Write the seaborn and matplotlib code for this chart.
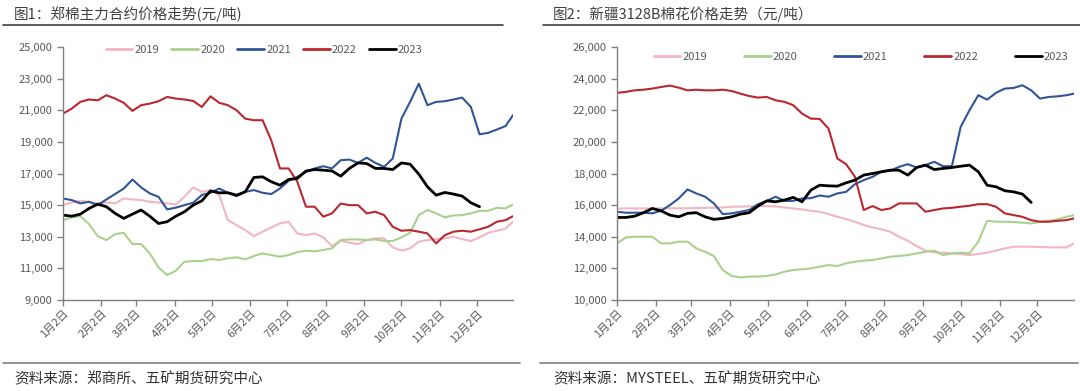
import matplotlib
matplotlib.use('Agg')
import matplotlib.pyplot as plt
from matplotlib.lines import Line2D
from matplotlib.ticker import FuncFormatter
import pandas as pd
import seaborn as sns

# weekly sample dates (month/day only matters), Jan 2 .. Dec 31
dates = list(pd.date_range('2023-01-02', periods=52, freq='7D')) + [pd.Timestamp('2023-12-31')]
years = ['2019', '2020', '2021', '2022', '2023']

# 图1 郑棉主力合约 (元/吨)
zce_2019 = [15000, 15170, 15270, 15210, 15110, 15170, 15110, 15420, 15360, 15320, 15210, 15170, 15110,
            15040, 15530, 16120, 15840, 15950, 15630, 14050, 13740, 13420, 13040, 13320, 13590, 13840,
            13950, 13210, 13100, 13210, 12960, 12410, 12750, 12620, 12540, 12790, 12900, 12900, 12330,
            12120, 12270, 12690, 12790, 12850, 12900, 13000, 12850, 12730, 12960, 13250, 13380, 13510, 13950]
zce_2020 = [14050, 14220, 14300, 13800, 13040, 12790, 13170, 13250, 12540, 12540, 11950, 11060, 10580,
            10850, 11420, 11460, 11460, 11590, 11530, 11640, 11700, 11570, 11780, 11950, 11840, 11740,
            11840, 12030, 12120, 12080, 12160, 12270, 12790, 12830, 12830, 12790, 12830, 12730, 12730,
            12960, 13250, 14370, 14690, 14480, 14220, 14350, 14370, 14480, 14640, 14640, 14830, 14790, 15040]
zce_2021 = [15420, 15320, 15110, 15210, 15000, 15360, 15700, 16050, 16620, 16120, 15740, 15530, 14730,
            14840, 15000, 15150, 15640, 15780, 16050, 15780, 15570, 15840, 15950, 15780, 15700, 16050,
            16540, 16790, 17100, 17320, 17460, 17320, 17840, 17880, 17670, 18000, 17670, 17420, 17950,
            20470, 21530, 22680, 21320, 21530, 21570, 21680, 21800, 21210, 19480, 19570, 19780, 20000, 20690]
zce_2022 = [20790, 21100, 21530, 21680, 21630, 21950, 21740, 21470, 20960, 21320, 21420, 21570, 21840,
            21740, 21680, 21590, 21210, 21880, 21470, 21320, 21000, 20470, 20370, 20370, 19100, 17320,
            17320, 16480, 14900, 14900, 14270, 14480, 15100, 15000, 15000, 14480, 14580, 14370, 13630,
            13380, 13420, 13320, 13210, 12580, 13100, 13320, 13380, 13320, 13470, 13630, 13950, 14050, 14300]
zce_2023 = [14370, 14300, 14430, 14790, 15060, 14900, 14480, 14160, 14430, 14690, 14300, 13840, 13950,
            14300, 14580, 15000, 15270, 15900, 15780, 15780, 15630, 15840, 16750, 16790, 16480, 16260,
            16620, 16690, 17160, 17250, 17210, 17160, 16830, 17320, 17670, 17630, 17320, 17320, 17250,
            17670, 17590, 16960, 16160, 15630, 15800, 15700, 15570, 15150, 14900]

# 图2 新疆3128B棉花 (元/吨)
spot_2019 = [15790, 15790, 15790, 15790, 15790, 15790, 15800, 15800, 15800, 15820, 15830, 15830, 15850,
             15900, 15900, 15920, 15940, 15940, 15920, 15850, 15790, 15730, 15640, 15580, 15430, 15260,
             15120, 14950, 14740, 14590, 14470, 14320, 14000, 13750, 13410, 13120, 13010, 12990, 12950,
             12910, 12840, 12910, 12990, 13120, 13260, 13370, 13370, 13370, 13350, 13330, 13330, 13330, 13580]
spot_2020 = [13580, 13960, 14000, 14000, 14000, 13580, 13580, 13690, 13690, 13260, 13050, 12780, 11900,
             11520, 11430, 11480, 11480, 11520, 11620, 11790, 11900, 11940, 12000, 12110, 12210, 12150,
             12320, 12420, 12490, 12530, 12630, 12740, 12780, 12840, 12950, 13050, 13120, 12840, 12950,
             12990, 12950, 13690, 15010, 14950, 14950, 14930, 14890, 14840, 14950, 15010, 15100, 15260, 15370]
spot_2021 = [15580, 15520, 15520, 15520, 15480, 15640, 16000, 16420, 16990, 16740, 16530, 16110, 15430,
             15480, 15580, 15690, 16060, 16270, 16530, 16270, 16270, 16420, 16440, 16610, 16530, 16740,
             16840, 17330, 17580, 17790, 18110, 18170, 18420, 18590, 18380, 18530, 18740, 18460, 18460,
             20950, 22000, 22950, 22670, 23100, 23370, 23410, 23580, 23260, 22740, 22840, 22880, 22950, 23050]
spot_2022 = [23100, 23160, 23260, 23300, 23370, 23470, 23560, 23430, 23260, 23300, 23260, 23260, 23300,
             23220, 23050, 22900, 22800, 22840, 22630, 22530, 22320, 21790, 21470, 21450, 20840, 18950,
             18590, 17790, 15690, 15940, 15690, 15790, 16110, 16110, 16110, 15580, 15690, 15790, 15830,
             15900, 15960, 16060, 16060, 15900, 15480, 15370, 15260, 15050, 14950, 14950, 15010, 15050, 15160]
spot_2023 = [15220, 15220, 15300, 15520, 15790, 15640, 15370, 15260, 15480, 15520, 15260, 15100, 15160,
             15260, 15430, 15520, 15940, 16270, 16210, 16320, 16490, 16210, 16950, 17260, 17220, 17200,
             17410, 17580, 17900, 18000, 18110, 18210, 18210, 17900, 18380, 18530, 18250, 18320, 18380,
             18460, 18530, 18110, 17260, 17160, 16910, 16840, 16700, 16170]

tick_dates = [pd.Timestamp(2023, m, 2) for m in range(1, 13)]
tick_labels = [f'{m}月2日' for m in range(1, 13)]

palette = {'2019': '#F2B6C3', '2020': '#A9D18E', '2021': '#2F5597', '2022': '#B8282E', '2023': '#000000'}

sns.set_theme(style='white')
plt.rcParams['font.family'] = ['Noto Sans CJK SC', 'DejaVu Sans']

W, H = 1080, 391
fig = plt.figure(figsize=(W / 100, H / 100), dpi=100)


def to_frame(series):
    parts = []
    for year, vals in zip(years, series):
        parts.append(pd.DataFrame({'date': dates[:len(vals)], 'price': vals, 'year': year}))
    return pd.concat(parts, ignore_index=True)


def draw(ax, df, ylim, yticks, leg_anchor, colspacing):
    for year in years:
        sub = df[df['year'] == year]
        sns.lineplot(data=sub, x='date', y='price', ax=ax, color=palette[year], label=year,
                     linewidth=2.0 if year == '2023' else 1.5, estimator=None)
    ax.set_xlim(pd.Timestamp('2023-01-02'), pd.Timestamp('2023-12-31'))
    ax.set_ylim(*ylim)
    ax.set_yticks(yticks)
    ax.yaxis.set_major_formatter(FuncFormatter(lambda v, p: f'{v:,.0f}'))
    ax.set_xticks(tick_dates)
    ax.set_xticklabels(tick_labels, rotation=45, ha='right', rotation_mode='anchor')
    ax.set_xlabel('')
    ax.set_ylabel('')
    for s in ['top', 'right']:
        ax.spines[s].set_visible(False)
    for s in ['left', 'bottom']:
        ax.spines[s].set_color('#808080')
        ax.spines[s].set_linewidth(1.0)
    ax.tick_params(axis='both', which='both', direction='out', length=4, width=1,
                   color='#808080', labelcolor='#595959', labelsize=8, left=True, bottom=True)
    ax.tick_params(axis='x', pad=2)
    leg = ax.legend(ncol=5, frameon=False, loc='center', bbox_to_anchor=leg_anchor,
                    fontsize=8, handlelength=2.4, handletextpad=0.2, columnspacing=colspacing,
                    labelcolor='#595959')
    for h in leg.get_lines():
        h.set_linewidth(2.0)


ax1 = fig.add_axes([63 / W, 91 / H, 450 / W, 253 / H])
draw(ax1, to_frame([zce_2019, zce_2020, zce_2021, zce_2022, zce_2023]),
     (9000, 25000), range(9000, 25001, 2000), (0.447, 0.99), 1.1)

ax2 = fig.add_axes([617 / W, 91 / H, 457 / W, 253 / H])
draw(ax2, to_frame([spot_2019, spot_2020, spot_2021, spot_2022, spot_2023]),
     (10000, 26000), range(10000, 26001, 2000), (0.534, 0.96), 3.3)

# titles, separators, sources
fig.text(14 / W, 1 - 14 / H, '图1：郑棉主力合约价格走势(元/吨)', va='center', fontsize=10.5, color='#404040')
fig.text(553 / W, 1 - 14 / H, '图2：新疆3128B棉花价格走势（元/吨）', va='center', fontsize=10.5, color='#404040')
fig.add_artist(Line2D([3 / W, 503 / W], [1 - 25 / H] * 2, color='#404040', lw=1.2))
fig.add_artist(Line2D([543 / W, 1080 / W], [1 - 25 / H] * 2, color='#404040', lw=1.2))
fig.add_artist(Line2D([3 / W, 520 / W], [1 - 363 / H] * 2, color='#808080', lw=1.2))
fig.add_artist(Line2D([540 / W, 1078 / W], [1 - 363 / H] * 2, color='#808080', lw=1.2))
fig.text(14 / W, 1 - 379 / H, '资料来源：郑商所、五矿期货研究中心', va='center', fontsize=10.5, color='#333333')
fig.text(553 / W, 1 - 379 / H, '资料来源：MYSTEEL、五矿期货研究中心', va='center', fontsize=10.5, color='#333333')

fig.savefig('out.png', dpi=100)
